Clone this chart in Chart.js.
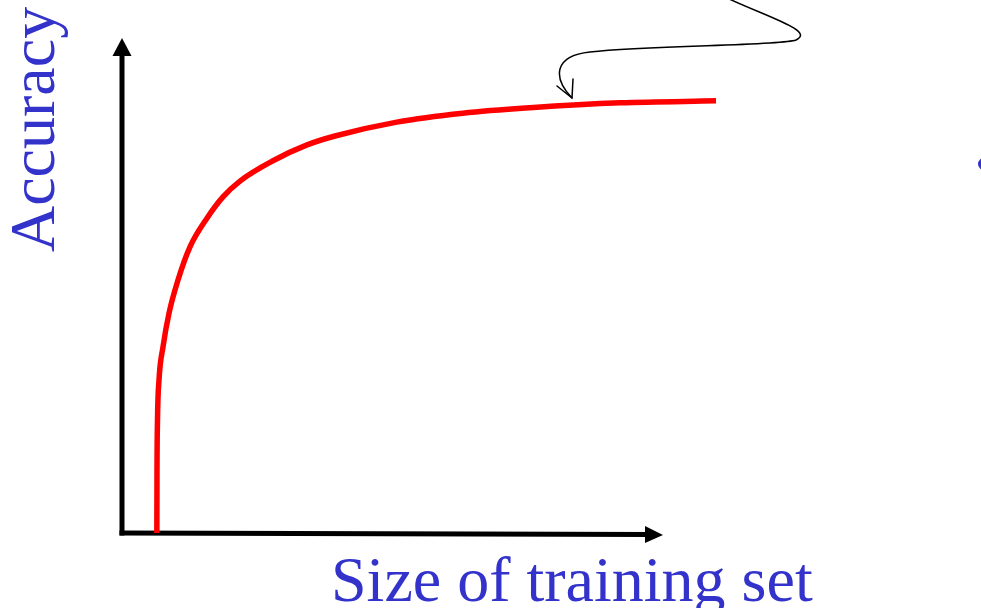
<!DOCTYPE html>
<html>
<head>
<meta charset="utf-8">
<script src="https://cdn.jsdelivr.net/npm/chart.js@4/dist/chart.umd.min.js"></script>
<style>
  html, body { margin: 0; padding: 0; background: #ffffff; }
  #wrap { width: 981px; height: 608px; position: relative; }
</style>
</head>
<body>
<div id="wrap"><canvas id="c" width="981" height="608"></canvas></div>
<script>
// Training-set size (arbitrary units) and accuracy (arbitrary units)
const trainingSize = [6.44, 6.47, 6.56, 6.84, 7.58, 8.69, 10.35, 12.57, 15.71, 18.67, 21.81, 27.91, 34.2, 39.37, 50.8, 63.0, 75.4, 92.1, 109.8];
const accuracy     = [0, 12.7, 22.8, 30.9, 37.6, 44.4, 51.1, 57.8, 63.6, 67.9, 71.1, 75.2, 78.4, 80.2, 83.0, 84.8, 85.9, 86.9, 87.3];
const xTitle = "Size of training set";
const yTitle = "Accuracy";

const points = trainingSize.map((x, i) => ({ x: x, y: accuracy[i] }));

const decor = {
  id: 'decor',
  beforeDatasetsDraw(chart) {
    const ctx = chart.ctx;
    const xs = chart.scales.x, ys = chart.scales.y;
    const x0 = xs.getPixelForValue(0), y0 = ys.getPixelForValue(0);
    const xEnd = xs.getPixelForValue(100), yEnd = ys.getPixelForValue(100);
    ctx.save();
    ctx.strokeStyle = '#000'; ctx.fillStyle = '#000';
    ctx.lineWidth = 5; ctx.lineCap = 'butt';
    // y axis
    ctx.beginPath(); ctx.moveTo(x0, y0 + 2.5); ctx.lineTo(x0, yEnd + 14); ctx.stroke();
    ctx.beginPath(); ctx.moveTo(x0, yEnd); ctx.lineTo(x0 - 9.5, yEnd + 18); ctx.lineTo(x0 + 9.5, yEnd + 18); ctx.closePath(); ctx.fill();
    // x axis
    ctx.beginPath(); ctx.moveTo(x0 - 2.5, y0); ctx.lineTo(xEnd - 14, y0 + 1.5); ctx.stroke();
    ctx.beginPath(); ctx.moveTo(xEnd, y0 + 2); ctx.lineTo(xEnd - 18, y0 - 7); ctx.lineTo(xEnd - 18, y0 + 10); ctx.closePath(); ctx.fill();
    ctx.restore();
  },
  afterDatasetsDraw(chart) {
    const ctx = chart.ctx;
    ctx.save();
    // axis titles
    ctx.fillStyle = '#3333CC';
    ctx.font = '64px "Liberation Serif", "Times New Roman", serif';
    ctx.textBaseline = 'alphabetic';
    ctx.textAlign = 'left';
    ctx.fillText(xTitle, 331, 601);
    ctx.save();
    ctx.translate(54, 252);
    ctx.rotate(-Math.PI / 2);
    ctx.fillText(yTitle, 0, 0);
    ctx.restore();
    // partial blue mark at right edge
    ctx.beginPath();
    ctx.ellipse(985, 164, 7, 6.5, 0, 0, Math.PI * 2);
    ctx.fill();
    // annotation squiggle arrow
    ctx.strokeStyle = '#000';
    ctx.lineWidth = 1.5;
    ctx.lineCap = 'round'; ctx.lineJoin = 'round';
    ctx.beginPath();
    ctx.moveTo(727, -2);
    ctx.bezierCurveTo(770, 18, 815, 31, 796, 40);
    ctx.bezierCurveTo(780, 46, 650, 45, 590, 52);
    ctx.bezierCurveTo(553, 56, 553, 78, 572, 98);
    ctx.stroke();
    ctx.beginPath();
    ctx.moveTo(557, 86); ctx.lineTo(572, 98); ctx.lineTo(573, 79);
    ctx.stroke();
    ctx.restore();
  }
};

new Chart(document.getElementById('c'), {
  type: 'scatter',
  data: {
    datasets: [{
      data: points,
      showLine: true,
      borderColor: '#FF0000',
      borderWidth: 5.5,
      pointRadius: 0,
      cubicInterpolationMode: 'monotone',
      fill: false,
      clip: false
    }]
  },
  options: {
    responsive: false,
    animation: false,
    events: [],
    layout: { padding: { left: 122, top: 38, right: 318, bottom: 75 } },
    plugins: { legend: { display: false }, tooltip: { enabled: false } },
    scales: {
      x: { type: 'linear', min: 0, max: 100, display: false },
      y: { type: 'linear', min: 0, max: 100, display: false }
    }
  },
  plugins: [decor]
});
</script>
</body>
</html>
